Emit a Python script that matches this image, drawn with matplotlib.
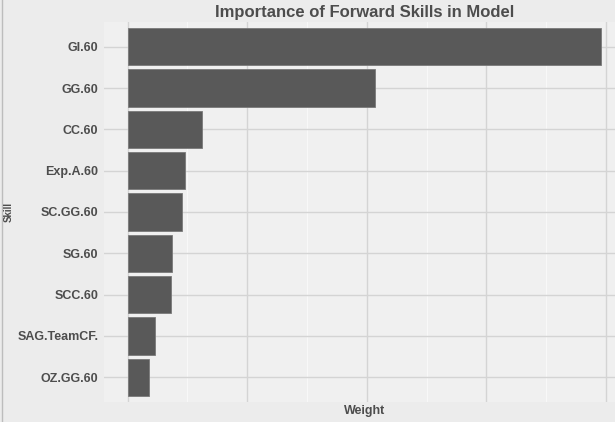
import matplotlib
matplotlib.use('Agg')
import matplotlib.pyplot as plt
from matplotlib.ticker import MultipleLocator
from matplotlib.lines import Line2D

plt.rcParams['font.family'] = ['Liberation Sans', 'DejaVu Sans']

# datos (unidades arbitrarias, el eje no tiene etiquetas)
skills  = ['GI.60', 'GG.60', 'CC.60', 'Exp.A.60', 'SC.GG.60',
           'SG.60', 'SCC.60', 'SAG.TeamCF.', 'OZ.GG.60']
weights = [3.96, 2.07, 0.62, 0.48, 0.457, 0.37, 0.36, 0.228, 0.179]

TXT = '#4D4D4D'
W, H = 615, 422

fig = plt.figure(figsize=(W / 100, H / 100), dpi=100)
fig.patch.set_facecolor('#ECECEC')

# panel: x de 104 a 625 px (sale por la derecha), y de 22 a 402 px
ax = fig.add_axes([104 / W, 1 - 402 / H, (625 - 104) / W, (402 - 22) / H])
ax.set_facecolor('#F0F0F0')

ypos = list(range(len(skills)))
ax.barh(ypos, weights, height=0.9, color='#595959',
        edgecolor='#7A7A7A', linewidth=0.6, zorder=3)

ax.set_xlim(-0.198, 4.158)
ax.set_ylim(len(skills) - 0.4, -0.6)
ax.set_yticks(ypos)
ax.set_yticklabels(skills, fontsize=9, fontweight='bold', color=TXT)

ax.xaxis.set_major_locator(MultipleLocator(1.0))
ax.xaxis.set_minor_locator(MultipleLocator(0.5))
ax.set_xticklabels([])
ax.tick_params(axis='both', which='both', length=0)
ax.tick_params(axis='y', pad=4)

ax.grid(axis='x', which='major', color='#D4D4D4', lw=1.0, zorder=1)
ax.grid(axis='x', which='minor', color='#F8F8F8', lw=0.8, zorder=1)
ax.grid(axis='y', which='major', color='#D4D4D4', lw=1.0, zorder=1)
for s in ax.spines.values():
    s.set_visible(False)

# borde fino a la izquierda, como en la captura original
fig.add_artist(Line2D([1.5 / W, 1.5 / W], [0, 1], color='#BDBDBD', lw=1.0))

fig.text(365 / W, 1 - 12 / H, 'Importance of Forward Skills in Model',
         ha='center', va='center', fontsize=12, fontweight='bold', color=TXT)
fig.text(365 / W, 1 - 411 / H, 'Weight', ha='center', va='center',
         fontsize=9, fontweight='bold', color=TXT)
fig.text(8.5 / W, 1 - 212 / H, 'Skill', ha='center', va='center',
         rotation=90, fontsize=7, fontweight='bold', color=TXT)

fig.savefig('out.png', dpi=100, facecolor=fig.get_facecolor())
